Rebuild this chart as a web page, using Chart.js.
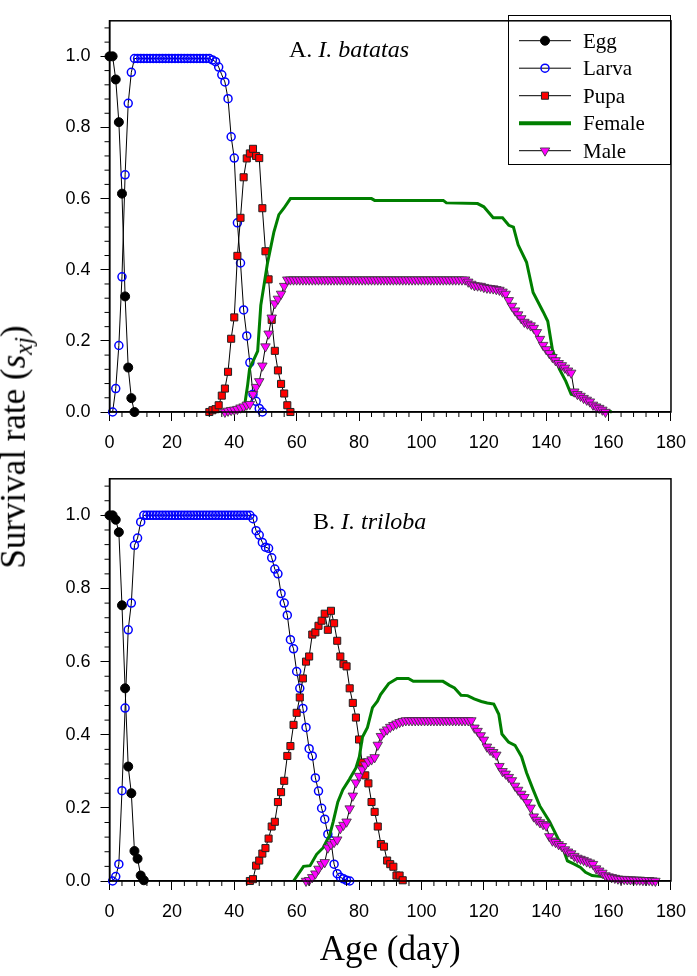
<!DOCTYPE html>
<html>
<head>
<meta charset="utf-8">
<script src="https://cdn.jsdelivr.net/npm/chart.js@4.4.1/dist/chart.umd.min.js"></script>
<style>
  body { margin: 0; background: #fff; width: 697px; height: 976px; position: relative; overflow: hidden; }
  .wrap { position: absolute; left: 0; width: 697px; }
  #wrapA { top: 0; height: 458px; }
  #wrapB { top: 458px; height: 518px; }
  #ytitle {
    position: absolute; left: 16px; top: 447px;
    font-family: "Liberation Serif", serif; font-size: 35px; white-space: nowrap;
    transform: translate(-50%, -50%) rotate(-90deg);
  }
  #ytitle sub { font-size: 0.7em; vertical-align: -0.3em; }
</style>
</head>
<body>
<div class="wrap" id="wrapA"><canvas id="chartA" width="697" height="458"></canvas></div>
<div class="wrap" id="wrapB"><canvas id="chartB" width="697" height="518"></canvas></div>
<div id="ytitle">Survival rate (<i>s<sub>xj</sub></i>)</div>
<script>
// ---- data: daily survival rates ----

// A. I. batatas
var eggA_start = 0
var eggA = [1.0, 1.0, 0.935, 0.815, 0.614, 0.325, 0.125, 0.039, 0]

var larvaA_start = 1
var larvaA = [0, 0.066, 0.187, 0.38, 0.667, 0.868, 0.955,
  0.994, 0.994, 0.994, 0.994, 0.994, 0.994, 0.994, 0.994, 0.994, 0.994,
  0.994, 0.994, 0.994, 0.994, 0.994, 0.994, 0.994, 0.994, 0.994, 0.994,
  0.994, 0.994, 0.994, 0.994, 0.994,
  0.99, 0.985, 0.97, 0.948, 0.928, 0.881, 0.774, 0.714, 0.532, 0.419,
  0.287, 0.214, 0.139, 0.05, 0.03, 0.01, 0]

var pupaA_start = 32
var pupaA = [0, 0.005, 0.008, 0.019, 0.046, 0.066, 0.113, 0.206, 0.266, 0.439,
  0.546, 0.66, 0.713, 0.727, 0.74, 0.72, 0.714, 0.573, 0.452, 0.373,
  0.259, 0.172, 0.117, 0.079, 0.052, 0.019, 0]

var femaleA_days = [43, 44.3, 44.9, 47.5, 48.5, 50.6, 52.7, 54.3, 55.9, 58,
  84, 85, 107, 108, 118, 120, 123, 126, 128, 129.5,
  131, 133.7, 135.8, 139, 140.5, 142, 144.2, 146.3, 148, 150,
  152, 154, 156, 158, 161]
var femaleA = [0, 0.077, 0.121, 0.171, 0.30, 0.416, 0.506, 0.555, 0.573, 0.6,
  0.6, 0.595, 0.595, 0.588, 0.586, 0.577, 0.546, 0.546, 0.525, 0.52,
  0.47, 0.421, 0.336, 0.282, 0.255, 0.175, 0.121, 0.086, 0.05, 0.045,
  0.035, 0.025, 0.015, 0.008, 0]

var maleA_start = 37
var maleA = [0, 0.003, 0.005, 0.006, 0.008, 0.012, 0.015, 0.02, 0.022, 0.05,
  0.07, 0.086, 0.13, 0.184, 0.22, 0.265, 0.305, 0.318, 0.332, 0.354,
  0.372, 0.372, 0.372, 0.372, 0.372, 0.372, 0.372, 0.372, 0.372, 0.372,
  0.372, 0.372, 0.372, 0.372, 0.372, 0.372, 0.372, 0.372, 0.372, 0.372,
  0.372, 0.372, 0.372, 0.372, 0.372, 0.372, 0.372, 0.372, 0.372, 0.372,
  0.372, 0.372, 0.372, 0.372, 0.372, 0.372, 0.372, 0.372, 0.372, 0.372,
  0.372, 0.372, 0.372, 0.372, 0.372, 0.372, 0.372, 0.372, 0.372, 0.372,
  0.372, 0.372, 0.372, 0.372, 0.372, 0.372, 0.372, 0.372,
  0.366, 0.36, 0.356, 0.355, 0.354, 0.351, 0.349, 0.348, 0.347, 0.345,
  0.343, 0.338, 0.332, 0.314, 0.298, 0.285, 0.274, 0.263, 0.253, 0.248,
  0.243, 0.236, 0.224, 0.205, 0.188, 0.176, 0.165, 0.154, 0.145, 0.137,
  0.131, 0.124, 0.116, 0.11, 0.057, 0.05, 0.045, 0.039, 0.034, 0.029,
  0.02, 0.015, 0.011, 0.006, 0]

// B. I. triloba
var eggB_start = 0
var eggB = [1.0, 1.0, 0.988, 0.954, 0.754, 0.527, 0.313, 0.24, 0.082, 0.061, 0.015, 0.002]

var larvaB_start = 1
var larvaB = [0, 0.012, 0.046, 0.247, 0.473, 0.687, 0.76, 0.918, 0.938, 0.982, 1.0,
  1.0, 1.0, 1.0, 1.0, 1.0, 1.0, 1.0, 1.0, 1.0, 1.0,
  1.0, 1.0, 1.0, 1.0, 1.0, 1.0, 1.0, 1.0, 1.0, 1.0,
  1.0, 1.0, 1.0, 1.0, 1.0, 1.0, 1.0, 1.0, 1.0, 1.0,
  1.0, 1.0, 1.0, 1.0,
  0.991, 0.958, 0.946, 0.926, 0.913, 0.91, 0.884, 0.853, 0.84, 0.786,
  0.76, 0.727, 0.66, 0.635, 0.573, 0.527, 0.472, 0.42, 0.362, 0.342,
  0.282, 0.246, 0.199, 0.169, 0.128, 0.11, 0.046, 0.02, 0.01, 0.006,
  0.002, 0]

var pupaB_start = 45
var pupaB = [0, 0.005, 0.042, 0.056, 0.075, 0.09, 0.116, 0.149, 0.162, 0.216,
  0.243, 0.274, 0.342, 0.369, 0.427, 0.46, 0.502, 0.554, 0.6, 0.614,
  0.674, 0.68, 0.698, 0.712, 0.731, 0.687, 0.739, 0.705, 0.657, 0.614,
  0.593, 0.587, 0.527, 0.487, 0.447, 0.387, 0.324, 0.289, 0.267, 0.216,
  0.189, 0.149, 0.101, 0.094, 0.056, 0.046, 0.039, 0.015, 0.015, 0.002]

var femaleB_days = [59, 62.2, 64.3, 66.4, 68.5, 70.6, 71.7, 73.2, 74.8, 76.9,
  79, 80.1, 81.1, 82.7, 84.3, 85.9, 86.9, 89.5, 92.2, 95.8,
  97.4, 106.9, 109, 110.6, 112.7, 114.8, 116.9, 119.2, 121.1, 123.2,
  124.8, 125.8, 127.9, 130, 132.1, 133.7, 135.8, 137.9, 141.1, 143.2,
  145.3, 146.8, 149, 151, 152.6, 154.7, 157.9, 160, 161]
var femaleB = [0, 0.04, 0.042, 0.073, 0.091, 0.126, 0.162, 0.216, 0.25, 0.278,
  0.309, 0.34, 0.394, 0.42, 0.474, 0.492, 0.51, 0.54, 0.554, 0.554,
  0.546, 0.546, 0.535, 0.528, 0.508, 0.507, 0.498, 0.491, 0.487, 0.484,
  0.456, 0.402, 0.38, 0.371, 0.34, 0.296, 0.25, 0.206, 0.162, 0.126,
  0.091, 0.055, 0.046, 0.037, 0.024, 0.015, 0.012, 0.006, 0]

var maleB_start = 63
var maleB = [0, 0.002, 0.01, 0.02, 0.033, 0.046, 0.051, 0.091, 0.1, 0.106,
  0.113, 0.144, 0.153, 0.162, 0.198, 0.233, 0.269, 0.287, 0.305, 0.318,
  0.327, 0.332, 0.338, 0.372, 0.396, 0.408, 0.414, 0.421, 0.426, 0.43,
  0.434, 0.437,
  0.439, 0.439, 0.439, 0.439, 0.439, 0.439, 0.439, 0.439, 0.439, 0.439,
  0.439, 0.439, 0.439, 0.439, 0.439, 0.439, 0.439, 0.439, 0.439, 0.439,
  0.439, 0.439,
  0.419, 0.41, 0.398, 0.386, 0.367, 0.358, 0.352, 0.345, 0.314, 0.3,
  0.293, 0.284, 0.275, 0.26, 0.249, 0.238, 0.229, 0.215, 0.2, 0.176,
  0.167, 0.16, 0.155, 0.151, 0.122, 0.11, 0.106, 0.1, 0.095, 0.086,
  0.08, 0.075, 0.068, 0.063, 0.06, 0.057, 0.053, 0.05, 0.046, 0.034,
  0.028, 0.022, 0.015, 0.012, 0.01, 0.008, 0.006, 0.005, 0.005, 0.004,
  0.004, 0.003, 0.003, 0.003, 0.002, 0.002, 0.002, 0.001, 0]

// axis ticks
var xTicks = [0, 20, 40, 60, 80, 100, 120, 140, 160, 180]
var yTicks = [0, 0.2, 0.4, 0.6, 0.8, 1.0]
var legendLabels = ['Egg', 'Larva', 'Pupa', 'Female', 'Male']

// ---- helpers ----
function daily(start, vals) {
  return vals.map(function (v, i) { return { x: start + i, y: v } })
}
function paired(days, vals) {
  return vals.map(function (v, i) { return { x: days[i], y: v } })
}

var styles = {
  Egg:    { pointStyle: 'circle', pointRadius: 4.5, pointBackgroundColor: '#000', pointBorderColor: '#000', pointBorderWidth: 1, borderColor: '#000', borderWidth: 1 },
  Larva:  { pointStyle: 'circle', pointRadius: 4, pointBackgroundColor: 'rgba(0,0,0,0)', pointBorderColor: '#0000ff', pointBorderWidth: 1.5, borderColor: '#000', borderWidth: 1 },
  Pupa:   { pointStyle: 'rect', pointRadius: 5, pointBackgroundColor: '#ff0000', pointBorderColor: '#222', pointBorderWidth: 1, borderColor: '#000', borderWidth: 1 },
  Female: { pointRadius: 0, borderColor: '#007f00', borderWidth: 3 },
  Male:   { pointStyle: 'triangle', pointRotation: 180, pointRadius: 5.5, pointBackgroundColor: '#ff00ff', pointBorderColor: '#333', pointBorderWidth: 0.8, borderColor: '#000', borderWidth: 1 }
}

function makeSet(name, data, order) {
  return Object.assign({ label: name, data: data, order: order, tension: 0, fill: false, clip: false }, styles[name])
}

// ---- plugins ----
var frame = {
  id: 'frame',
  afterDraw: function (chart) {
    var ctx = chart.ctx, a = chart.chartArea, x = chart.scales.x, y = chart.scales.y
    ctx.save()
    ctx.strokeStyle = '#000'
    ctx.lineWidth = 1.5
    ctx.strokeRect(a.left, a.top, a.right - a.left, a.bottom - a.top)
    // minor ticks
    ctx.lineWidth = 1
    ctx.beginPath()
    for (var d = 4; d < 180; d += 4) {
      if (d % 20 === 0) continue
      var px = x.getPixelForValue(d)
      ctx.moveTo(px, a.bottom); ctx.lineTo(px, a.bottom + 5)
    }
    for (var k = 1; k <= 27; k++) {
      if (k % 5 === 0) continue
      var py = y.getPixelForValue(k * 0.04)
      ctx.moveTo(a.left, py); ctx.lineTo(a.left - 5, py)
    }
    ctx.stroke()
    ctx.restore()
  }
}

function panelTitle(chart, parts, x, y) {
  var ctx = chart.ctx
  ctx.save()
  ctx.fillStyle = '#000'
  ctx.textBaseline = 'alphabetic'
  parts.forEach(function (p) {
    ctx.font = (p[1] ? 'italic ' : '') + '24px "Liberation Serif"'
    ctx.fillText(p[0], x, y)
    x += ctx.measureText(p[0]).width
  })
  ctx.restore()
}

var legendBox = {
  id: 'legendBox',
  afterDraw: function (chart) {
    var ctx = chart.ctx
    ctx.save()
    ctx.strokeStyle = '#000'
    ctx.lineWidth = 1
    ctx.strokeRect(508.5, 15.5, 162, 149)
    legendLabels.forEach(function (name, i) {
      var s = styles[name], cy = 40.7 + i * 27.5
      ctx.beginPath()
      ctx.strokeStyle = s.borderColor
      ctx.lineWidth = name === 'Female' ? 4 : 1
      ctx.moveTo(519, cy); ctx.lineTo(571, cy)
      ctx.stroke()
      if (s.pointRadius > 0) {
        ctx.fillStyle = s.pointBackgroundColor
        ctx.strokeStyle = s.pointBorderColor
        ctx.lineWidth = s.pointBorderWidth
        Chart.helpers.drawPoint(ctx, { pointStyle: s.pointStyle, radius: s.pointRadius, rotation: s.pointRotation || 0, borderWidth: s.pointBorderWidth }, 545, cy)
      }
      ctx.fillStyle = '#000'
      ctx.font = '21px "Liberation Serif"'
      ctx.fillText(name, 583, cy + 7)
    })
    ctx.restore()
  }
}

function makeOptions(xHeight, padTop, withTitle) {
  return {
    responsive: false,
    animation: false,
    events: [],
    layout: { padding: { top: padTop, right: 17, left: 0, bottom: 0 } },
    plugins: { legend: { display: false }, tooltip: { enabled: false } },
    scales: {
      x: {
        type: 'linear', min: 0, max: 180,
        afterBuildTicks: function (s) { s.ticks = xTicks.map(function (v) { return { value: v } }) },
        afterFit: function (s) { s.height = xHeight },
        ticks: { color: '#000', font: { family: 'Liberation Sans', size: 18 }, padding: 11, maxRotation: 0 },
        grid: { drawOnChartArea: false, tickLength: 9, color: '#000', lineWidth: 1 },
        border: { color: '#000', width: 1.5 },
        title: withTitle ? { display: true, text: 'Age (day)', color: '#000', font: { family: 'Liberation Serif', size: 35 }, padding: { top: 0, bottom: 4 } } : { display: false }
      },
      y: {
        min: 0, max: 1.1,
        afterBuildTicks: function (s) { s.ticks = yTicks.map(function (v) { return { value: v } }) },
        afterFit: function (s) { s.width = 109.5 },
        ticks: { color: '#000', font: { family: 'Liberation Sans', size: 18 }, padding: 10, callback: function (v) { return v.toFixed(1) } },
        grid: { drawOnChartArea: false, tickLength: 9, color: '#000', lineWidth: 1 },
        border: { color: '#000', width: 1.5 }
      }
    }
  }
}

new Chart(document.getElementById('chartA'), {
  type: 'line',
  data: {
    datasets: [
      makeSet('Male', daily(maleA_start, maleA), 0),
      makeSet('Female', paired(femaleA_days, femaleA), 1),
      makeSet('Pupa', daily(pupaA_start, pupaA), 2),
      makeSet('Larva', daily(larvaA_start, larvaA), 3),
      makeSet('Egg', daily(eggA_start, eggA), 4)
    ]
  },
  options: makeOptions(46, 1, false),
  plugins: [frame, legendBox, { id: 'titleA', afterDraw: function (c) { panelTitle(c, [['A. ', false], ['I. batatas', true]], 289, 57) } }]
})

new Chart(document.getElementById('chartB'), {
  type: 'line',
  data: {
    datasets: [
      makeSet('Male', daily(maleB_start, maleB), 0),
      makeSet('Female', paired(femaleB_days, femaleB), 1),
      makeSet('Pupa', daily(pupaB_start, pupaB), 2),
      makeSet('Larva', daily(larvaB_start, larvaB), 3),
      makeSet('Egg', daily(eggB_start, eggB), 4)
    ]
  },
  options: makeOptions(95, 11, true),
  plugins: [frame, { id: 'titleB', afterDraw: function (c) { panelTitle(c, [['B. ', false], ['I. triloba', true]], 313, 71) } }]
})
</script>
</body>
</html>
